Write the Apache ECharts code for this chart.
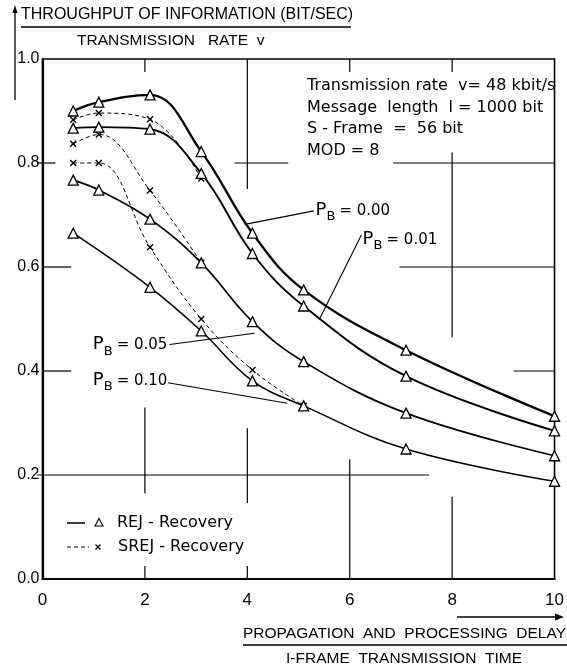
<!DOCTYPE html>
<html><head><meta charset="utf-8">
<script src="https://cdn.jsdelivr.net/npm/echarts@6/dist/echarts.min.js"></script>
<style>html,body{margin:0;padding:0;background:#fff}#c{width:567px;height:670px}</style>
</head><body><div id="c"></div>
<script>
// ---- data ----
const xRej = [0.6, 1.1, 2.1, 3.1, 4.1, 5.1, 7.1, 10];
const rej000 = [0.900, 0.917, 0.931, 0.822, 0.665, 0.556, 0.440, 0.313];
const rej001 = [0.867, 0.869, 0.865, 0.780, 0.626, 0.525, 0.390, 0.285];
const rej005 = [0.767, 0.748, 0.692, 0.608, 0.495, 0.418, 0.319, 0.237];
const xRej010 = [0.6, 2.1, 3.1, 4.1, 5.1, 7.1, 10];
const rej010 = [0.665, 0.561, 0.477, 0.381, 0.333, 0.250, 0.188];
const xSrej = [0.6, 1.1, 2.1, 3.1, 4.1, 5.1];
const srej001 = [0.883, 0.896, 0.884, 0.770];
const srej005 = [0.837, 0.855, 0.747, 0.608];
const srej010 = [0.800, 0.800, 0.638, 0.500, 0.402, 0.333];
const xTicks = [0, 2, 4, 6, 8, 10];
const yTicks = [0, 0.2, 0.4, 0.6, 0.8, 1.0];
const pbValues = ['0.00', '0.01', '0.05', '0.10'];
const infoLines = ['Transmission rate  v= 48 kbit/s', 'Message  length  l = 1000 bit', 'S - Frame  =  56 bit', 'MOD = 8'];
const legendNames = ['REJ - Recovery', 'SREJ - Recovery'];
// decorative partial grid strokes (data units)
const gridSegs = [
  [4,1.0,4,0.75],[3.75,0.8,4.8,0.8],[6.85,0.8,10,0.8],[8,0.82,8,0.465],[6.97,0.6,10,0.6],[9.2,0.4,10,0.4],
  [6,0.23,6,0],[-0.1,0.2,7.55,0.2],[8,0.158,8,0],[2,0.33,2,0.165],[4,0.29,4,0.146],
  [2,1,2,0.975],[6,1,6,0.975],[8,1,8,0.975],[2,0,2,0.025],[4,0,4,0.025],
  [-0.1,0.8,0.25,0.8],[0,0.6,0.56,0.6],[0,0.4,0.56,0.4]
];
// annotation pointers and label anchors (data units)
const pointers = [[3.95,0.682,5.3,0.708],[5.40,0.498,6.23,0.662],[2.48,0.451,4.14,0.4725],[2.45,0.3775,4.78,0.338]];
const labelAnchors = [[5.33,0.708],[6.25,0.652],[0.98,0.449],[0.98,0.381]];

const FONT = 'Liberation Sans';
const FONT2 = 'DejaVu Sans';
const chart = echarts.init(document.getElementById('c'), null, {renderer: 'canvas'});
const pts = (xs, ys) => ys.map((y, i) => [xs[i], y]);
const rej = (name, xs, ys, w) => ({
  name, type: 'line', data: pts(xs, ys), smooth: 0.4, symbol: 'triangle', symbolSize: 10,
  itemStyle: {color: '#fff', borderColor: '#000', borderWidth: 1.3},
  lineStyle: {color: '#000', width: w}, z: 5, animation: false
});
const crossPath = 'path://M0,0L10,10M10,0L0,10';
const srej = (name, xs, ys) => ({
  name, type: 'line', data: pts(xs, ys), smooth: 0.4, symbol: crossPath, symbolSize: 6,
  itemStyle: {color: 'rgba(0,0,0,0)', borderColor: '#000', borderWidth: 1.4},
  lineStyle: {color: '#000', width: 1, type: [4, 3]}, z: 4, animation: false
});

chart.setOption({
  animation: false,
  grid: {left: 42.5, right: 7, top: 59, bottom: 91, show: true, borderColor: '#000', borderWidth: 1.6},
  xAxis: {type: 'value', min: 0, max: 10, interval: 2,
    axisLine: {lineStyle: {color: '#000', width: 2.2}}, axisTick: {show: false}, splitLine: {show: false},
    axisLabel: {color: '#000', fontSize: 17, fontFamily: FONT, margin: 13,
      formatter: v => xTicks.includes(v) ? String(v) : ''}},
  yAxis: {type: 'value', min: 0, max: 1, interval: 0.2,
    axisLine: {show: true, lineStyle: {color: '#000', width: 2.2}}, axisTick: {show: false}, splitLine: {show: false},
    axisLabel: {color: '#000', fontSize: 16, fontFamily: FONT, margin: 3,
      formatter: v => yTicks.some(t => Math.abs(t - v) < 1e-9) ? v.toFixed(1) : ''}},
  series: [
    rej('REJ 0.00', xRej, rej000, 2.3),
    rej('REJ 0.01', xRej, rej001, 1.9),
    rej('REJ 0.05', xRej, rej005, 1.7),
    rej('REJ 0.10', xRej010, rej010, 1.5),
    srej('SREJ 0.01', xSrej, srej001),
    srej('SREJ 0.05', xSrej, srej005),
    srej('SREJ 0.10', xSrej, srej010)
  ]
});

const P = (x, y) => chart.convertToPixel({gridIndex: 0}, [x, y]);
const g = [];
const blk = {stroke: '#000', lineWidth: 1.2};
const ln = (x1, y1, x2, y2, style, z) => ({type: 'line', shape: {x1, y1, x2, y2}, style, z: z || 1});
const txt = (x, y, text, size, family, extra) => ({type: 'text', x, y, z: 7,
  style: Object.assign({text, fontSize: size, fontFamily: family, fill: '#000', verticalAlign: 'middle', align: 'left'}, extra || {})});
gridSegs.forEach(s => { const a = P(s[0], s[1]), b = P(s[2], s[3]);
  g.push(ln(a[0], a[1], b[0], b[1], blk, 1)); });
pointers.forEach(s => { const a = P(s[0], s[1]), b = P(s[2], s[3]);
  g.push(ln(a[0], a[1], b[0], b[1], {stroke: '#000', lineWidth: 1.1}, 6)); });
pbValues.forEach((v, i) => { const a = P(labelAnchors[i][0], labelAnchors[i][1]);
  g.push(txt(a[0], a[1] - 1, 'P', 18, FONT2));
  g.push(txt(a[0] + 11, a[1] + 6, 'B', 13, FONT2));
  g.push(txt(a[0] + 24, a[1], '= ' + v, 15, FONT2));
});
// info text
infoLines.forEach((t, i) => g.push(txt(307, 86 + i * 21.5, t, 16, FONT2)));
// legend
g.push(ln(67, 523, 85, 523, {stroke: '#000', lineWidth: 1.5}));
g.push({type: 'polygon', shape: {points: [[99, 518.5], [103, 526], [95, 526]]}, style: {fill: '#fff', stroke: '#000', lineWidth: 1.1}});
g.push(txt(117, 523, legendNames[0], 16, FONT2));
g.push(ln(67, 547, 89, 547, {stroke: '#000', lineWidth: 1.2, lineDash: [4, 3]}));
g.push(ln(95.5, 544.5, 100.5, 549.5, {stroke: '#000', lineWidth: 1.2}));
g.push(ln(100.5, 544.5, 95.5, 549.5, {stroke: '#000', lineWidth: 1.2}));
g.push(txt(118, 547, legendNames[1], 16, FONT2));
// y title
g.push(ln(15, 100, 15, 10, {stroke: '#000', lineWidth: 1.3}));
g.push({type: 'polygon', shape: {points: [[15, 5], [17.5, 13], [12.5, 13]]}, style: {fill: '#000'}});
g.push(txt(21, 15, 'THROUGHPUT OF INFORMATION (BIT/SEC)', 16, FONT));
g.push(ln(21, 27, 351, 27, {stroke: '#000', lineWidth: 1.5}));
g.push(txt(77, 41, 'TRANSMISSION   RATE  v', 15.5, FONT));
// x title
g.push(ln(457, 617, 556, 617, {stroke: '#000', lineWidth: 1.5}));
g.push({type: 'polygon', shape: {points: [[564, 617], [555, 613.5], [555, 620.5]]}, style: {fill: '#000'}});
g.push(txt(566, 634, 'PROPAGATION  AND  PROCESSING  DELAY', 15.5, FONT, {align: 'right'}));
g.push(ln(243, 645, 567, 645, {stroke: '#000', lineWidth: 1.5}));
g.push(txt(522, 659, 'I-FRAME  TRANSMISSION  TIME', 15.5, FONT, {align: 'right'}));
chart.setOption({graphic: {elements: g}});
</script></body></html>
